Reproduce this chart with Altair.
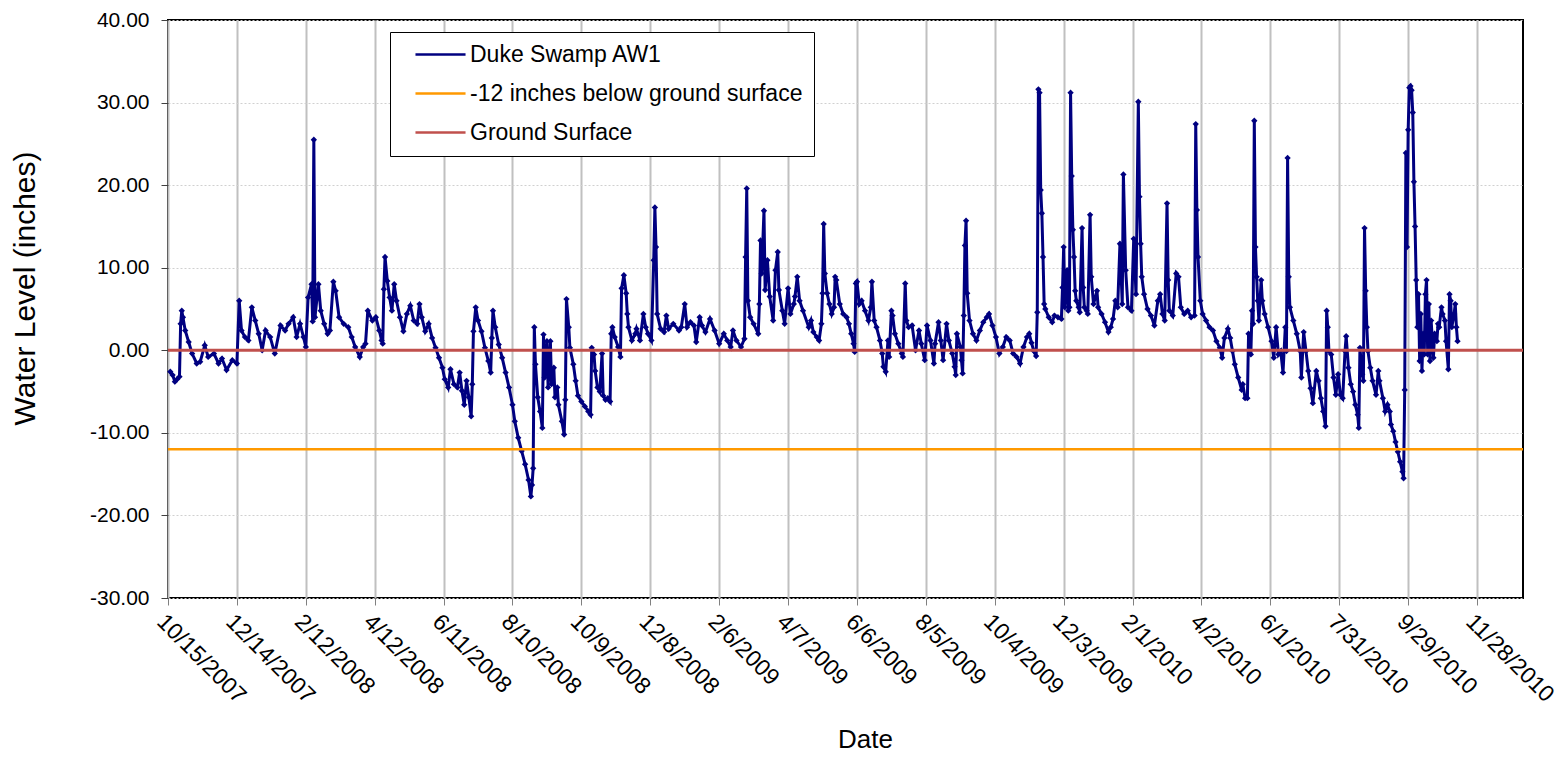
import altair as alt
import pandas as pd

# ---------------- data ----------------
series_names = ["Duke Swamp AW1", "-12 inches below ground surface", "Ground Surface"]
series_colors = ["#000080", "#FF9900", "#C0504D"]

start_date = "2007-10-15"
end_date = "2011-01-07"

tick_labels = ["10/15/2007", "12/14/2007", "2/12/2008", "4/12/2008", "6/11/2008",
               "8/10/2008", "10/9/2008", "12/8/2008", "2/6/2009", "4/7/2009",
               "6/6/2009", "8/5/2009", "10/4/2009", "12/3/2009", "2/1/2010",
               "4/2/2010", "6/1/2010", "7/31/2010", "9/29/2010", "11/28/2010"]
y_ticks = [-30, -20, -10, 0, 10, 20, 30, 40]

ref_names = ["-12 inches below ground surface", "Ground Surface"]
ref_levels = [-12.0, 0.0]

# days after 10/15/2007
days = [
    2, 4, 6, 8, 10, 11, 12, 13, 15, 18, 21, 25, 28, 32, 35, 40, 44, 47, 51, 56,
    60, 62, 64, 67, 70, 73, 76, 79, 82, 85, 89, 93, 98, 102, 105, 109, 112, 115, 118, 120,
    122, 125, 126, 127, 128, 131, 133, 136, 139, 141, 144, 146, 149, 153, 157, 160, 163, 167, 170, 172,
    174, 178, 181, 184, 186, 187, 188, 189,
    191, 193, 195, 197, 199, 202, 205, 208, 211, 214, 217, 219, 221, 224, 227, 230, 233, 236, 239, 241,
    244, 246, 249, 252, 254, 256, 258, 260, 262, 264, 265, 266, 268, 270, 273, 276, 279, 281, 282, 283,
    285, 288, 291, 294, 297, 300, 302, 305, 308, 311, 314, 316, 317, 318, 319, 320, 322, 324, 326, 327,
    328, 330, 331, 333, 334, 336, 337, 339, 340, 343, 345, 346, 347, 349, 350, 353, 355, 357, 360, 363,
    366, 368, 369, 371, 372, 374, 376, 378, 379, 381, 383, 385,
    386, 387, 389, 392, 394, 395, 397, 399, 400, 401, 404, 407, 408, 411, 414, 416, 418, 421, 423, 424,
    425, 426, 429, 432, 434, 436, 440, 445, 447, 450, 452, 455, 458, 460, 463, 465, 468, 472, 476, 480,
    484, 487, 490, 492, 495, 499, 502, 503, 504, 505, 507, 510, 514, 515, 516, 517, 519, 520, 522, 524,
    527, 529, 531, 532, 535, 537, 540, 542, 545, 546, 548, 550, 553, 558,
    560, 562, 565, 567, 569, 570, 571, 572, 574, 576, 578, 580, 581, 582, 585, 588, 591, 593, 595, 597,
    598, 599, 600, 602, 604, 607, 610, 612, 613, 615, 617, 620, 622, 623, 625, 627, 628, 630, 631, 633,
    636, 639, 640, 642, 643, 645, 648, 651, 654, 656, 659, 661, 664, 667, 668, 671, 673, 675, 678, 680,
    683, 685, 686, 687, 690, 691, 692, 693, 694, 695, 696, 698, 701, 704, 707, 710, 713, 715, 718, 721,
    724, 727, 730, 733, 736, 739, 742, 745, 748, 750,
    752, 754, 756, 757, 758, 759, 760, 761, 762, 763, 764, 767, 770, 772, 775, 778, 779, 780, 781, 783,
    784, 785, 786, 787, 788, 789, 790, 791, 793, 794, 796, 797, 798, 800, 801, 803, 804, 806, 809, 810,
    813, 816, 819, 821, 823, 825, 827, 829, 831, 832, 834, 836, 839, 841, 843, 845, 846, 847, 848, 850,
    853, 856, 859, 862, 864, 866, 868, 870, 871, 872, 875, 878, 880, 882, 885, 888, 891, 894, 895, 896,
    897, 899, 901, 904, 907, 910, 913, 916, 918, 920, 923, 925, 927, 929, 932, 935,
    936, 938, 940, 941, 943, 944, 945, 946, 947, 948, 949, 950, 952, 953, 955, 958, 961, 963, 965, 967,
    969, 971, 973, 974, 975, 976, 977, 980, 983, 986, 987, 989, 991, 993, 995, 997, 1000, 1002, 1004, 1006,
    1008, 1009, 1010, 1011, 1013, 1015, 1017, 1019, 1021, 1023, 1025, 1026, 1028, 1030, 1032, 1034, 1036, 1037, 1038, 1040,
    1041, 1042, 1043, 1044, 1045, 1047, 1049, 1052, 1054, 1055, 1058, 1060, 1062, 1064, 1065, 1067, 1069, 1071, 1073, 1075,
    1076, 1077, 1078, 1079, 1080, 1081, 1082, 1083, 1084, 1085, 1086, 1087, 1088, 1089, 1090, 1091, 1092, 1093, 1094, 1095,
    1096, 1097, 1098, 1099, 1100, 1102, 1103, 1105, 1106, 1107, 1109, 1110, 1112, 1113, 1115, 1116, 1117, 1118, 1120, 1121,
    1122, 1123,
]

# water level (inches)
levels = [
    -2.6, -3.0, -3.8, -3.5, -3.2, 3.2, 4.8, 4.0, 2.4, 1.0, -0.4, -1.6, -1.4, 0.6, -0.8, -0.4, -1.6, -1.0, -2.4, -1.2,
    -1.6, 6.0, 2.4, 1.6, 1.2, 5.2, 3.6, 2.0, 0.0, 2.4, 1.6, -0.4, 3.0, 2.4, 3.2, 4.0, 1.6, 3.2, 1.6, 0.4,
    6.4, 8.0, 3.5, 25.5, 4.0, 8.0, 4.8, 3.2, 2.0, 2.4, 8.3, 7.2, 4.0, 3.2, 2.8, 1.6, 0.4, -0.8, 0.4, 0.8,
    4.8, 3.6, 4.0, 2.4, 1.2, 0.8, 7.4, 11.3,
    8.4, 6.4, 4.8, 8.0, 6.0, 4.0, 2.3, 4.4, 5.4, 3.6, 3.2, 5.6, 4.0, 2.3, 3.2, 1.5, 0.3, -0.9, -2.1, -3.5,
    -4.5, -2.3, -4.1, -4.5, -2.7, -4.9, -6.6, -3.7, -5.7, -8.0, -4.1, 2.3, 5.2, 3.6, 2.3, 0.3, -1.3, -2.7, 1.5, 4.8,
    2.8, 0.7, -0.9, -2.7, -4.5, -6.6, -8.6, -10.6, -12.2, -13.8, -15.7, -17.7, -16.3, -14.3, 2.8, -1.7, -5.7, -7.4, -9.4, 1.9,
    -3.3, 1.1, -4.5, 1.1, -4.1, -2.1, -5.7, -4.5, -6.6, -8.6, -10.2, -6.0, 6.2, 2.8, 0.3, -1.7, -3.7, -5.5, -6.2, -6.8,
    -7.4, -7.8, 0.3, -0.5, -2.5, -4.5, -5.0, -0.4, -5.5, -6.0, -5.8, -6.2,
    2.0, 2.8, 1.6, 0.4, -0.8, 7.5, 9.1, 6.9, 4.4, 2.8, 1.2, 2.0, 2.6, 1.2, 4.4, 2.8, 2.0, 1.2, 10.9, 17.3,
    12.5, 4.4, 2.6, 2.2, 4.2, 2.6, 3.2, 2.4, 2.8, 5.6, 2.8, 3.4, 3.0, 1.0, 4.0, 3.0, 2.2, 3.8, 2.4, 0.8,
    2.0, 1.2, 0.4, 2.4, 1.2, 0.4, 1.4, 11.3, 19.6, 6.0, 4.0, 3.2, 2.0, 5.6, 13.3, 9.3, 16.9, 7.3, 10.9, 6.5,
    3.6, 9.7, 11.9, 7.3, 4.8, 3.2, 7.5, 4.4, 5.6, 6.5, 8.9, 6.0, 4.8, 2.8,
    3.6, 2.2, 1.6, 1.2, 3.2, 6.9, 15.3, 9.3, 6.9, 5.6, 4.4, 5.2, 8.9, 8.5, 5.6, 4.4, 4.0, 3.2, 2.0, 0.8,
    -0.2, 8.1, 8.3, 5.6, 6.0, 4.8, 3.6, 5.2, 8.3, 3.6, 2.8, 1.2, -0.4, -2.0, -2.6, 1.2, -0.8, 4.8, 4.2, 2.0,
    0.8, -0.4, -0.8, 8.1, 3.6, 2.8, 3.0, 0.0, 2.4, 0.8, -1.2, 3.0, 1.2, -1.6, 0.8, 3.4, 1.2, -1.2, 3.2, 1.2,
    -0.4, -2.0, -3.0, 2.0, 0.4, -1.2, -2.8, 4.2, 12.7, 15.7, 6.9, 3.6, 2.0, 1.2, 2.4, 3.4, 4.0, 4.4, 3.0, 1.6,
    -0.4, 0.4, 1.6, 1.2, -0.4, -0.8, -1.6, 0.4, 1.6, 2.0,
    0.9, -0.1, -0.7, 4.6, 31.6, 31.2, 19.4, 16.6, 11.3, 5.6, 5.0, 4.0, 3.4, 4.2, 4.0, 3.8, 7.6, 12.5, 5.2, 9.7,
    4.8, 5.2, 31.2, 21.1, 14.6, 11.3, 7.2, 6.0, 5.2, 4.6, 14.8, 7.6, 5.2, 4.8, 4.4, 16.4, 8.9, 5.6, 7.2, 5.2,
    4.4, 3.4, 2.2, 2.8, 3.8, 6.0, 5.2, 12.9, 5.6, 21.3, 9.7, 5.2, 4.8, 13.5, 6.8, 30.1, 18.6, 12.9, 8.9, 6.8,
    5.0, 4.2, 3.0, 6.0, 6.8, 4.4, 3.6, 17.8, 8.5, 4.8, 4.2, 9.3, 8.9, 5.2, 4.4, 4.8, 4.0, 4.2, 27.4, 17.0,
    11.3, 6.0, 4.4, 3.6, 2.8, 2.4, 1.1, 0.3, -0.9, 1.5, 2.6, 1.5, -0.1, -1.7, -3.3, -4.8,
    -4.1, -5.8, -5.8, 2.0, -0.5, 4.8, 3.2, 27.8, 12.5, 8.9, 6.0, 3.6, 8.5, 6.0, 4.4, 2.8, 1.1, -0.9, 2.8, -0.5,
    -0.1, -2.7, 2.8, -0.1, 23.3, 8.9, 5.2, 3.6, 2.0, -0.1, -3.3, 2.2, -0.1, -2.5, -4.6, -6.4, -2.5, -3.7, -5.8, -7.4,
    -9.2, 4.8, 2.8, -0.1, -0.5, -3.3, -5.4, -2.9, -5.4, -5.8, -0.1, 1.7, -2.1, -4.1, -5.0, -6.6, -7.8, -9.4, 0.3, -2.9,
    -3.7, 14.8, 7.2, 2.8, -0.1, -2.1, -3.7, -5.4, -2.5, -3.7, -5.8, -7.4, -6.6, -7.4, -9.0, -9.8, -11.1, -12.3, -13.5, -14.7,
    -15.5, -4.8, 23.9, 12.5, 26.7, 31.8, 32.0, 31.5, 28.8, 20.4, 15.0, 8.5, 2.8, 6.8, -1.3, 4.4, -2.5, 2.0, -0.5, 6.8,
    8.5, -0.5, 5.6, -1.3, 3.6, -0.9, 2.0, 1.1, 3.2, 2.8, 5.2, 4.4, 3.6, 1.1, -2.3, 6.8, 6.0, 2.8, 4.4, 5.6,
    2.8, 1.1,
]

# ---------------- tables ----------------
dates = pd.Timestamp(start_date) + pd.to_timedelta(days, unit="D")
water = pd.DataFrame({
    "date": dates.strftime("%Y-%m-%d"),
    "level": levels,
    "series": series_names[0],
})
refs = pd.DataFrame({"level": ref_levels, "series": ref_names})

tick_ms = [int(pd.to_datetime(t, format="%m/%d/%Y").value // 10**6) for t in tick_labels]
start_ms = int(pd.Timestamp(start_date).value // 10**6)
end_ms = int(pd.Timestamp(end_date).value // 10**6)

FONT = "Liberation Sans"

legend = alt.Legend(
    title=None, orient="none", legendX=222, legendY=12,
    symbolType="M0.35,0H6.24", symbolSize=289, symbolStrokeWidth=2.5,
    labelOffset=46, labelFont=FONT, labelFontSize=23, labelColor="black",
    padding=11, rowPadding=15, strokeColor="black", fillColor="white",
    labelLimit=600,
)

color = alt.Color(
    "series:N",
    scale=alt.Scale(domain=series_names, range=series_colors),
    legend=legend,
)

x_enc = alt.X(
    "date:T",
    scale=alt.Scale(type="utc", domain=[start_ms, end_ms], nice=False),
    axis=alt.Axis(
        values=tick_ms,
        labelExpr="utcFormat(datum.value, '%-m/%-d/%Y')",
        labelAngle=45, labelAlign="left", labelBaseline="top",
        labelFont=FONT, labelFontSize=23, labelColor="black", labelPadding=5,
        labelOverlap=False, labelFlush=False, labelBound=False,
        tickSize=7, tickColor="#808080", tickWidth=1,
        grid=True, gridColor="#c0c0c0", gridWidth=2,
        domain=False,
        title="Date", titleFont=FONT, titleFontSize=26, titleFontWeight="normal",
        titleColor="black", titleX=697, titleY=141, titleAlign="center",
        titleBaseline="middle",
    ),
)

y_enc = alt.Y(
    "level:Q",
    scale=alt.Scale(domain=[-30, 40], nice=False, zero=False),
    axis=alt.Axis(
        values=y_ticks,
        labelExpr="(datum.value < 0 ? '-' : '') + format(abs(datum.value), '.2f')",
        labelFont=FONT, labelFontSize=21, labelColor="black", labelPadding=12,
        tickSize=7, tickColor="#404040", tickWidth=1,
        grid=True, gridColor="#d0d0d0", gridDash=[2, 2], gridWidth=1,
        domain=False,
        title="Water Level (inches)", titleFont=FONT, titleFontSize=30,
        titleFontWeight="normal", titleColor="black",
        titleX=-143, titleY=268, titleAlign="center", titleBaseline="middle",
        titleAngle=270,
    ),
)

line = alt.Chart(water).mark_line(
    strokeWidth=3,
    point=alt.OverlayMarkDef(shape="diamond", size=40, filled=True),
).encode(x=x_enc, y=y_enc, color=color)

orange_rule = alt.Chart(refs).transform_filter(
    alt.datum.series == ref_names[0]
).mark_rule(strokeWidth=2.5).encode(y=alt.Y("level:Q"), color=color)

red_rule = alt.Chart(refs).transform_filter(
    alt.datum.series == ref_names[1]
).mark_rule(strokeWidth=3).encode(y=alt.Y("level:Q"), color=color)

chart = alt.layer(line, orange_rule, red_rule).properties(
    width=1355,
    height=578,
    autosize=alt.AutoSizeParams(type="none"),
    padding={"left": 160, "top": 12, "right": 36, "bottom": 158},
).configure_view(
    stroke="black", strokeWidth=2
)

chart.save("out.html", embed_options={"renderer": "svg", "actions": False})
